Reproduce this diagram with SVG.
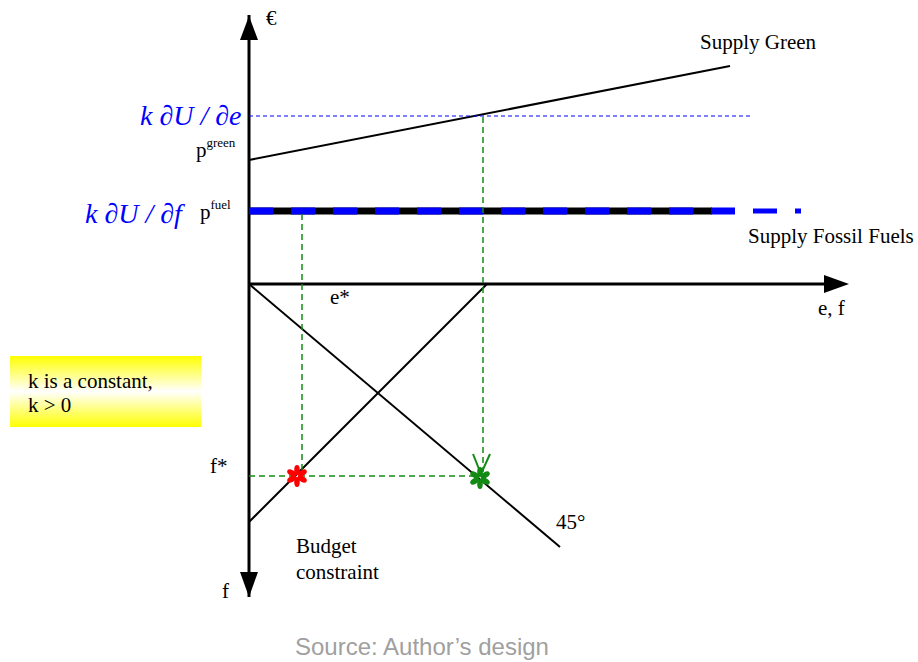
<svg xmlns="http://www.w3.org/2000/svg" width="918" height="662" viewBox="0 0 918 662">
<defs>
<style>
.t{font-family:"Liberation Serif",serif;font-size:21px;fill:#000}
.sup{font-family:"Liberation Serif",serif;font-size:13px;fill:#000}
.blue{font-family:"Liberation Serif",serif;font-size:28px;font-style:italic;fill:#0000ff}
.ax{stroke:#000;stroke-width:3;fill:none}
.ln{stroke:#000;stroke-width:2;fill:none}
.gd{stroke:#138a13;stroke-width:1.5;stroke-dasharray:6 4;fill:none}
.rp{fill:#ff0000}
.gp{fill:#138a13}
</style>
<linearGradient id="yg" x1="0" y1="0" x2="0" y2="1">
<stop offset="0" stop-color="#ffff00"/>
<stop offset="0.5" stop-color="#ffffff"/>
<stop offset="1" stop-color="#ffff00"/>
</linearGradient>
<g id="star">
<ellipse cx="0" cy="-6" rx="2.8" ry="5"/>
<ellipse cx="0" cy="-6" rx="2.8" ry="5" transform="rotate(60)"/>
<ellipse cx="0" cy="-6" rx="2.8" ry="5" transform="rotate(120)"/>
<ellipse cx="0" cy="-6" rx="2.8" ry="5" transform="rotate(180)"/>
<ellipse cx="0" cy="-6" rx="2.8" ry="5" transform="rotate(240)"/>
<ellipse cx="0" cy="-6" rx="2.8" ry="5" transform="rotate(300)"/>
</g>
</defs>
<rect width="918" height="662" fill="#fff"/>
<g id="connectors">
<line class="ax" x1="249" y1="597" x2="249" y2="15"/>
<path d="M240,40 L249,16 L258,40 z" fill="#000"/>
<path d="M240,572 L249,597 L258,572 z" fill="#000"/>
<line class="ax" x1="249" y1="284" x2="828" y2="284"/>
<path d="M824,275 L849,284 L824,293 z" fill="#000"/>
<line class="ln" x1="249" y1="160" x2="730" y2="66"/>
<line x1="249" y1="116" x2="750" y2="116" stroke="#0000ff" stroke-width="1" stroke-dasharray="4 3"/>
<line x1="249" y1="211" x2="712" y2="211" stroke="#000" stroke-width="7"/>
<line x1="249" y1="211" x2="735" y2="211" stroke="#0000ff" stroke-width="7" stroke-dasharray="24 18"/>
<line x1="753" y1="211" x2="777" y2="211" stroke="#0000ff" stroke-width="5"/>
<line x1="795" y1="211" x2="801" y2="211" stroke="#0000ff" stroke-width="5"/>
<line class="ln" x1="249" y1="284" x2="560" y2="547"/>
<line class="ln" x1="249" y1="522" x2="487" y2="284"/>
<line class="gd" x1="483" y1="117" x2="483" y2="472"/>
<line class="gd" x1="302" y1="214" x2="302" y2="470"/>
<line class="gd" x1="249" y1="476" x2="478" y2="476"/>
<path d="M473,454 L481,474 L490,454" stroke="#138a13" stroke-width="2" fill="none"/>
</g>
<g id="stars">
<use id="red-star" href="#star" class="rp" transform="translate(297,476)"/>
<use id="green-star" href="#star" class="gp" transform="translate(480,478)"/>
</g>
<g id="labels">
<text class="t" x="266" y="25">€</text>
<text class="t" x="700" y="49">Supply Green</text>
<text class="blue" x="140" y="125">k ∂U / ∂e</text>
<text class="t" x="196" y="157">p<tspan class="sup" dy="-10">green</tspan></text>
<text class="blue" x="85" y="223">k ∂U / ∂f</text>
<text class="t" x="200" y="219">p<tspan class="sup" dy="-10">fuel</tspan></text>
<text class="t" x="748" y="243">Supply Fossil Fuels</text>
<text class="t" x="330" y="304">e*</text>
<text class="t" x="818" y="315">e, f</text>
<text class="t" x="210" y="473">f*</text>
<text class="t" x="556" y="529">45°</text>
<text class="t" x="296" y="553">Budget</text>
<text class="t" x="296" y="579">constraint</text>
<text class="t" x="222" y="598">f</text>
</g>
<g id="note">
<rect x="10" y="356" width="191" height="71" fill="url(#yg)"/>
<text class="t" x="28" y="388">k is a constant,</text>
<text class="t" x="28" y="412">k &gt; 0</text>
</g>
<text x="295" y="655" font-family="Liberation Sans, Arial, sans-serif" font-size="24" fill="#a0a0a0">Source: Author’s design</text>
</svg>
